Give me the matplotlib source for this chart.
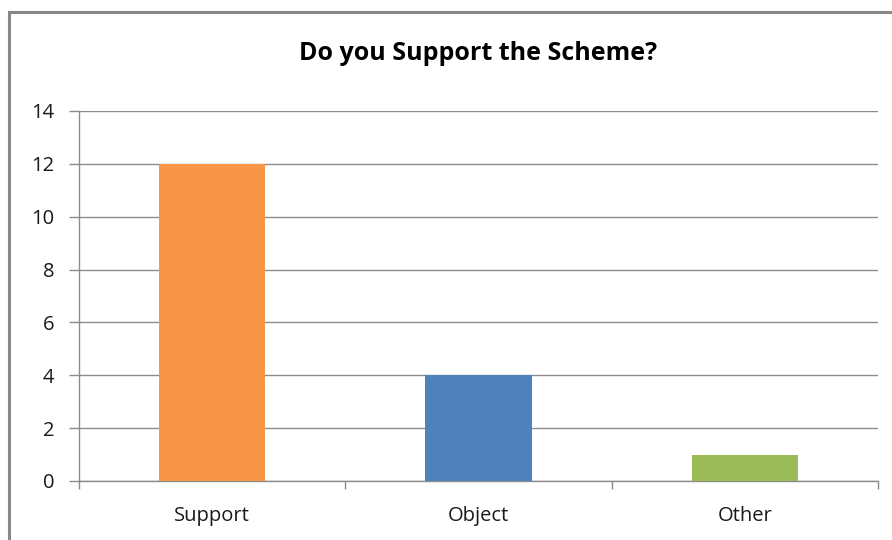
import matplotlib
matplotlib.use("Agg")
import matplotlib.pyplot as plt
from matplotlib.patches import Rectangle
from matplotlib.ticker import FixedLocator, NullFormatter

categories = ["Support", "Object", "Other"]
values = [12, 4, 1]
colors = ["#F79646", "#4F81BD", "#9BBB59"]
yticks = [0, 2, 4, 6, 8, 10, 12, 14]
title = "Do you Support the Scheme?"

plt.rcParams['font.family'] = ['Open Sans', 'DejaVu Sans']

fig = plt.figure(figsize=(8.92, 5.40), dpi=100)
fig.patches.append(Rectangle((9/892, -0.2), 1.5, 0.2 + (540-12)/540, transform=fig.transFigure,
                             fill=False, edgecolor="#888888", linewidth=2.2, zorder=0))
ax = fig.add_axes([79/892, 59/540, (878-79)/892, (481-111)/540])

x = list(range(len(categories)))
ax.bar(x, values, width=0.4, color=colors, zorder=3)
ax.set_xlim(-0.5, len(categories) - 0.5)
ax.set_ylim(0, 14)
ax.set_yticks(yticks)
ax.yaxis.grid(True, color="#8c8c8c", linewidth=1.0)
ax.set_axisbelow(True)

ax.set_xticks(x)
ax.set_xticklabels(categories, fontsize=14.5, color="#1a1a1a")
ax.tick_params(axis='x', which='major', length=0, pad=18)
ax.xaxis.set_minor_locator(FixedLocator([-0.5, 0.5, 1.5, 2.5]))
ax.xaxis.set_minor_formatter(NullFormatter())
ax.tick_params(axis='x', which='minor', length=6, color="#8c8c8c", width=1)
ax.tick_params(axis='y', length=7, color="#8c8c8c", width=1, labelsize=14.5,
               labelcolor="#1a1a1a", pad=11)

for s in ["top", "right"]:
    ax.spines[s].set_visible(False)
for s in ["left", "bottom"]:
    ax.spines[s].set_color("#8c8c8c")
    ax.spines[s].set_linewidth(1.0)

fig.text((298+658)/2/892, 1 - 53/540, title, ha="center", va="center",
         fontsize=18, fontweight="bold")

fig.savefig("out.png", dpi=100)
